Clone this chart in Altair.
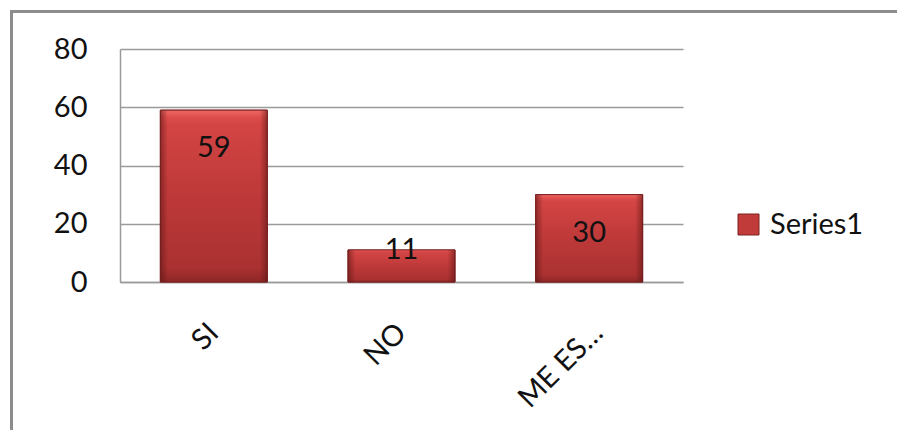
import altair as alt
import pandas as pd

# Survey answers and their counts
categories = ["SI", "NO", "ME ES…"]
values = [59, 11, 30]
series_name = "Series1"
y_ticks = [0, 20, 40, 60, 80]

df = pd.DataFrame({
    "categoria": categories,
    "valor": values,
    "serie": [series_name] * len(categories),
})

FONT = "Lato"
FS = 29
TEXT = "#111111"
GRID = "#9a9a9a"

x = alt.X(
    "categoria:N",
    sort=categories,
    title=None,
    scale=alt.Scale(paddingInner=0.43, paddingOuter=0.215),
    axis=alt.Axis(
        labelAngle=-45, labelAlign="right", labelBaseline="middle",
        labelPadding=46, ticks=False, tickSize=0, grid=False,
        # the truncated last label sits a little further right
        labelOffset={"condition": {"test": "datum.index == 1", "value": 9}, "value": 0},
        domainColor=GRID, domainWidth=1.5,
        labelFont=FONT, labelFontSize=FS, labelColor=TEXT,
    ),
)
y = alt.Y(
    "valor:Q",
    title=None,
    scale=alt.Scale(domain=[0, 80], nice=False),
    axis=alt.Axis(
        values=y_ticks, ticks=False, tickSize=0, labelPadding=33,
        grid=True, gridColor=GRID, gridWidth=1.5,
        domainColor=GRID, domainWidth=1.5,
        labelFont=FONT, labelFontSize=FS, labelColor=TEXT,
    ),
)

base = alt.Chart(df)

# flat bars carry the colour legend
legend_bars = base.mark_bar(stroke="#7d2323", strokeWidth=1).encode(
    x=x, y=y,
    color=alt.Color(
        "serie:N",
        scale=alt.Scale(range=["#C13B3B"]),
        legend=alt.Legend(
            title=None, orient="none", legendX=614, legendY=161,
            symbolType="square", symbolSize=441,
            symbolStrokeColor="#7d2323", symbolStrokeWidth=1,
            labelFont=FONT, labelFontSize=FS, labelColor=TEXT,
            labelOffset=7, padding=0,
        ),
    ),
)

# vertical shading with a light bevel at the top and a darker base
shade = alt.Gradient(
    gradient="linear", x1=0, x2=0, y1=0, y2=1,
    stops=[
        alt.GradientStop(color="#EE6A66", offset=0),
        alt.GradientStop(color="#DE4D4B", offset=0.04),
        alt.GradientStop(color="#D34544", offset=0.08),
        alt.GradientStop(color="#BE3939", offset=0.5),
        alt.GradientStop(color="#AA3131", offset=0.92),
        alt.GradientStop(color="#8E2626", offset=1),
    ],
)
shaded_bars = base.mark_bar(color=shade, stroke="#7d2323", strokeWidth=1).encode(x=x, y=y)

# darker side edges
edges = alt.Gradient(
    gradient="linear", x1=0, x2=1, y1=0, y2=0,
    stops=[
        alt.GradientStop(color="rgba(90,20,20,0.55)", offset=0),
        alt.GradientStop(color="rgba(90,20,20,0)", offset=0.07),
        alt.GradientStop(color="rgba(90,20,20,0)", offset=0.93),
        alt.GradientStop(color="rgba(90,20,20,0.55)", offset=1),
    ],
)
edge_bars = base.mark_bar(color=edges).encode(x=x, y=y)

# value labels: inside the top of tall bars, on the top edge of short ones
labels_tall = base.transform_filter("datum.valor >= 20").mark_text(
    dy=38, font=FONT, fontSize=FS, color=TEXT, baseline="middle"
).encode(x=x, y=y, text="valor:Q")
labels_short = base.transform_filter("datum.valor < 20").mark_text(
    dy=0, font=FONT, fontSize=FS, color=TEXT, baseline="middle"
).encode(x=x, y=y, text="valor:Q")

# outer chart frame (top and left edges)
frame_src = alt.Chart(pd.DataFrame({"k": [0]}))
frame_top = frame_src.mark_rule(color="#8c8c8c", strokeWidth=3).encode(
    x=alt.value(-109), x2=alt.value(790), y=alt.value(-37.5)
)
frame_left = frame_src.mark_rule(color="#8c8c8c", strokeWidth=3).encode(
    x=alt.value(-108.5), y=alt.value(-39), y2=alt.value(400)
)

chart = alt.layer(
    legend_bars, shaded_bars, edge_bars, labels_tall, labels_short,
    frame_top, frame_left,
).properties(
    width=563,
    height=233,
    autosize=alt.AutoSizeParams(type="none"),
    padding={"left": 120, "top": 49, "right": 214, "bottom": 148},
    background="white",
).configure_view(stroke=None)

chart.save("out.html", embed_options={"renderer": "svg", "actions": False})
